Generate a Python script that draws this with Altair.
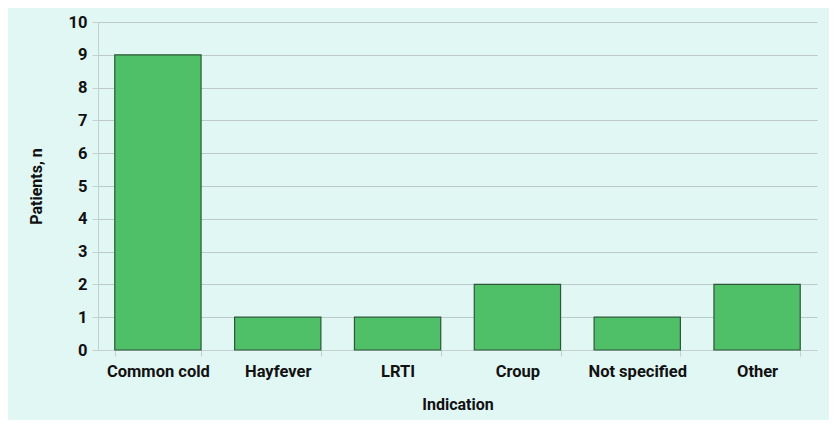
import altair as alt
import pandas as pd

categories = ["Common cold", "Hayfever", "LRTI", "Croup", "Not specified", "Other"]
patients = [9, 1, 1, 2, 1, 2]

df = pd.DataFrame({"Indication": categories, "Patients": patients})

FONT = "Roboto"
BG = "#e1f7f4"

bars = alt.Chart(df).mark_bar(
    color="#4fbf68", stroke="#2c5838", strokeWidth=1.2
).encode(
    x=alt.X("Indication:N", sort=categories, title="Indication",
            scale=alt.Scale(paddingInner=0.28, paddingOuter=0.14),
            axis=alt.Axis(labelAngle=0, tickBand="extent", tickSize=6,
                          tickColor="#c4cfcf", domainColor="#c4cfcf",
                          labelPadding=7, titlePadding=17)),
    y=alt.Y("Patients:Q", title="Patients, n",
            scale=alt.Scale(domain=[0, 10]),
            axis=alt.Axis(values=list(range(11)), tickSize=6,
                          tickColor="#c4cfcf", domainColor="#c4cfcf",
                          gridColor="#bccaca", labelPadding=5,
                          titlePadding=24)),
)

chart = bars.properties(
    width=719, height=328, background=BG,
    autosize=alt.AutoSizeParams(type="none"),
    padding={"left": 90, "top": 14, "right": 12, "bottom": 70},
).configure_view(stroke=None).configure_axis(
    labelFont=FONT, labelFontSize=16.5, labelFontWeight="bold", labelColor="#111",
    titleFont=FONT, titleFontSize=16, titleFontWeight="bold", titleColor="#111",
)

chart.save("out.html", embed_options={"renderer": "svg", "actions": False})
